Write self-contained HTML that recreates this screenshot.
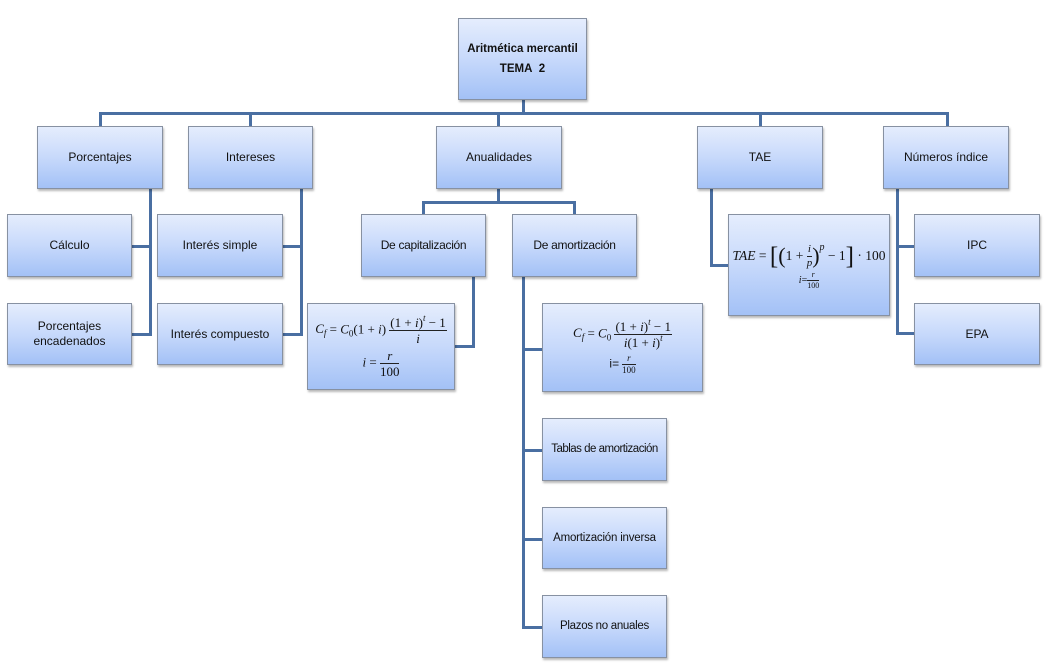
<!DOCTYPE html>
<html><head><meta charset="utf-8"><style>
html,body{margin:0;padding:0;background:#fff;}
body{width:1046px;height:668px;position:relative;overflow:hidden;font-family:"Liberation Sans",sans-serif;color:#111;}
.b{position:absolute;box-sizing:border-box;border:1px solid #8791a2;background:linear-gradient(#e5edfd,#c7d9fb 50%,#a3c1f6);box-shadow:1px 2px 2px rgba(0,0,0,0.28);display:flex;align-items:center;justify-content:center;text-align:center;font-size:12px;line-height:15px;}
.l{position:absolute;background:#4a6fa2;}
.m{font-family:"Liberation Serif",serif;font-size:13px;line-height:1;white-space:nowrap;}
.m i{font-style:italic;}
.fr{display:inline-flex;flex-direction:column;vertical-align:middle;text-align:center;}
.fr>span:first-child{border-bottom:1px solid #222;padding:0 1px 1px;}
.fr>span:last-child{padding-top:1px;}
sup{font-size:9px;vertical-align:6px;line-height:0;}
sub{font-size:9px;vertical-align:-3px;line-height:0;}
</style></head><body>

<!-- connectors -->
<div class="l" style="left:522px;top:100px;width:3px;height:14px"></div>
<div class="l" style="left:99px;top:112px;width:850px;height:3px"></div>
<div class="l" style="left:99px;top:112px;width:3px;height:14px"></div>
<div class="l" style="left:249px;top:112px;width:3px;height:14px"></div>
<div class="l" style="left:497px;top:112px;width:3px;height:14px"></div>
<div class="l" style="left:759px;top:112px;width:3px;height:14px"></div>
<div class="l" style="left:946px;top:112px;width:3px;height:14px"></div>

<div class="l" style="left:149px;top:189px;width:3px;height:147px"></div>
<div class="l" style="left:132px;top:245px;width:20px;height:3px"></div>
<div class="l" style="left:132px;top:333px;width:20px;height:3px"></div>

<div class="l" style="left:300px;top:189px;width:3px;height:147px"></div>
<div class="l" style="left:283px;top:245px;width:20px;height:3px"></div>
<div class="l" style="left:283px;top:333px;width:20px;height:3px"></div>

<div class="l" style="left:497px;top:189px;width:3px;height:15px"></div>
<div class="l" style="left:422px;top:201px;width:154px;height:3px"></div>
<div class="l" style="left:422px;top:201px;width:3px;height:13px"></div>
<div class="l" style="left:573px;top:201px;width:3px;height:13px"></div>

<div class="l" style="left:472px;top:277px;width:3px;height:71px"></div>
<div class="l" style="left:455px;top:345px;width:20px;height:3px"></div>

<div class="l" style="left:522px;top:277px;width:3px;height:352px"></div>
<div class="l" style="left:522px;top:348px;width:20px;height:3px"></div>
<div class="l" style="left:522px;top:449px;width:20px;height:3px"></div>
<div class="l" style="left:522px;top:538px;width:20px;height:3px"></div>
<div class="l" style="left:522px;top:626px;width:20px;height:3px"></div>

<div class="l" style="left:710px;top:189px;width:3px;height:78px"></div>
<div class="l" style="left:710px;top:264px;width:18px;height:3px"></div>

<div class="l" style="left:896px;top:189px;width:3px;height:146px"></div>
<div class="l" style="left:896px;top:245px;width:18px;height:3px"></div>
<div class="l" style="left:896px;top:332px;width:18px;height:3px"></div>

<!-- boxes -->
<div class="b" style="left:458px;top:18px;width:129px;height:82px;font-weight:bold;line-height:20px;font-size:11.5px;">Aritmética mercantil<br>TEMA&nbsp; 2</div>

<div class="b" style="left:37px;top:126px;width:126px;height:63px">Porcentajes</div>
<div class="b" style="left:188px;top:126px;width:125px;height:63px">Intereses</div>
<div class="b" style="left:436px;top:126px;width:126px;height:63px">Anualidades</div>
<div class="b" style="left:697px;top:126px;width:126px;height:63px">TAE</div>
<div class="b" style="left:883px;top:126px;width:126px;height:63px">Números índice</div>

<div class="b" style="left:7px;top:214px;width:125px;height:63px">Cálculo</div>
<div class="b" style="left:7px;top:303px;width:125px;height:62px">Porcentajes<br>encadenados</div>
<div class="b" style="left:157px;top:214px;width:126px;height:63px">Interés simple</div>
<div class="b" style="left:157px;top:303px;width:126px;height:62px">Interés compuesto</div>

<div class="b" style="left:361px;top:214px;width:125px;height:63px;letter-spacing:-0.3px">De capitalización</div>
<div class="b" style="left:512px;top:214px;width:125px;height:63px;letter-spacing:-0.3px">De amortización</div>

<div class="b" style="left:307px;top:303px;width:148px;height:87px;flex-direction:column;">
  <div class="m"><i>C<sub>f</sub></i> = <i>C</i><sub>0</sub>(1 + <i>i</i>) <span class="fr"><span>(1 + <i>i</i>)<sup><i>t</i></sup> − 1</span><span><i>i</i></span></span></div>
  <div class="m" style="margin-top:4px"><i>i</i> = <span class="fr"><span><i>r</i></span><span>100</span></span></div>
</div>

<div class="b" style="left:542px;top:303px;width:161px;height:89px;flex-direction:column;">
  <div class="m" style="font-size:13px"><i>C<sub>f</sub></i> = <i>C</i><sub>0</sub> <span class="fr"><span>(1 + <i>i</i>)<sup><i>t</i></sup> − 1</span><span><i>i</i>(1 + <i>i</i>)<sup><i>t</i></sup></span></span></div>
  <div class="m" style="margin-top:5px;font-size:12px"><span style="font-family:'Liberation Sans',sans-serif">i=</span> <span class="fr" style="font-size:9px"><span><i>r</i></span><span>100</span></span></div>
</div>

<div class="b" style="left:728px;top:214px;width:162px;height:102px;flex-direction:column;">
  <div class="m" style="font-size:13.5px;margin-top:4px"><i>TAE</i> = <span style="font-size:25px;vertical-align:-4px">[</span><span style="font-size:22px;vertical-align:-3px">(</span>1 + <span class="fr" style="font-size:11px"><span><i>i</i></span><span><i>p</i></span></span><span style="font-size:22px;vertical-align:-3px">)</span><sup style="vertical-align:10px;font-size:10px"><i>p</i></sup> − 1<span style="font-size:25px;vertical-align:-4px">]</span> · 100</div>
  <div class="m" style="margin-top:2px;font-size:10px"><i>i</i>=<span class="fr" style="font-size:8px"><span><i>r</i></span><span>100</span></span></div>
</div>

<div class="b" style="left:914px;top:214px;width:126px;height:63px">IPC</div>
<div class="b" style="left:914px;top:303px;width:126px;height:62px">EPA</div>

<div class="b" style="left:542px;top:418px;width:125px;height:63px;font-size:11.5px;letter-spacing:-0.5px">Tablas de amortización</div>
<div class="b" style="left:542px;top:507px;width:125px;height:62px;font-size:11.5px;letter-spacing:-0.2px">Amortización inversa</div>
<div class="b" style="left:542px;top:595px;width:125px;height:63px;font-size:11.5px;letter-spacing:-0.3px">Plazos no anuales</div>

</body></html>
